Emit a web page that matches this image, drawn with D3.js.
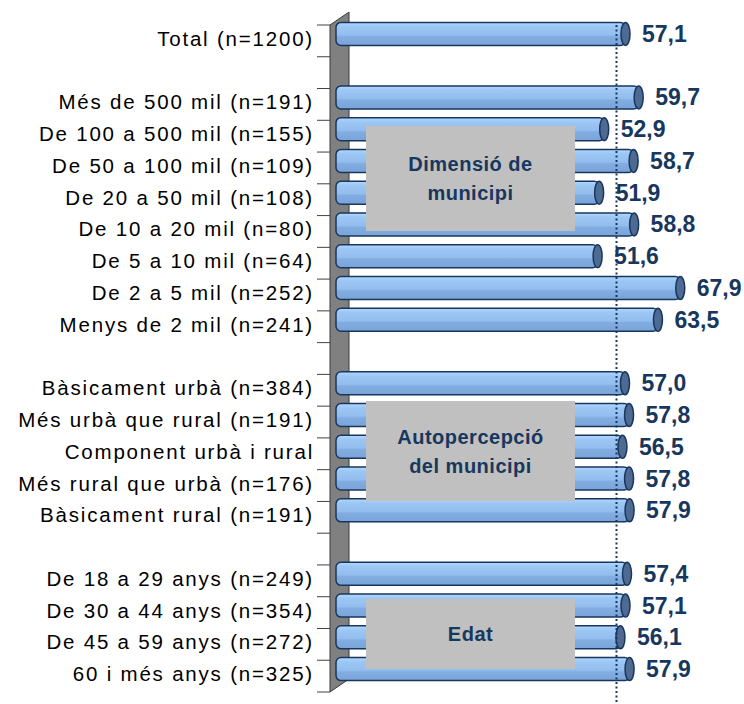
<!DOCTYPE html>
<html>
<head>
<meta charset="utf-8">
<script src="https://cdn.jsdelivr.net/npm/d3@7"></script>
<style>
  html, body { margin: 0; padding: 0; background: #fff; }
  svg { display: block; }
  .cat-label { font-family: "Liberation Sans", Arial, sans-serif; font-size: 20.5px; letter-spacing: 1.8px; fill: #000; }
  .val-label { font-family: "Liberation Sans", Arial, sans-serif; font-size: 23px; font-weight: bold; fill: #17375e; }
  .box-label { font-family: "Liberation Sans", Arial, sans-serif; font-size: 20px; font-weight: bold; letter-spacing: 0.5px; fill: #17375e; }
</style>
</head>
<body>
<div id="chart"></div>
<script>
// Satisfaction index by municipality size, self-perception and age.
const categories = [
  "Total (n=1200)", "",
  "Més de 500 mil (n=191)", "De 100 a 500 mil (n=155)", "De 50 a 100 mil (n=109)",
  "De 20 a 50 mil (n=108)", "De 10 a 20 mil (n=80)", "De 5 a 10 mil (n=64)",
  "De 2 a 5 mil (n=252)", "Menys de 2 mil (n=241)", "",
  "Bàsicament urbà (n=384)", "Més urbà que rural (n=191)", "Component urbà i rural",
  "Més rural que urbà (n=176)", "Bàsicament rural (n=191)", "",
  "De 18 a 29 anys (n=249)", "De 30 a 44 anys (n=354)", "De 45 a 59 anys (n=272)",
  "60 i més anys (n=325)"
];
const values = [
  57.1, null,
  59.7, 52.9, 58.7, 51.9, 58.8, 51.6, 67.9, 63.5, null,
  57.0, 57.8, 56.5, 57.8, 57.9, null,
  57.4, 57.1, 56.1, 57.9
];
const averageValue = 57.1;
const groupTitles = [
  ["Dimensió de", "municipi"],
  ["Autopercepció", "del municipi"],
  ["Edat"]
];

(function () {
  const width = 744;
  const height = 704;

  const svg = d3.select("#chart").append("svg")
    .attr("width", width)
    .attr("height", height);

  const navy = "#17375e";
  const depthX = 19, depthY = 13;
  const barH = 23, barLift = 7, capRx = 4.5;

  const y = d3.scaleBand()
    .domain(d3.range(categories.length))
    .range([25, 692])
    .padding(0);

  const x = d3.scaleLinear().domain([0, 70]).range([336, 336 + 70 * 5.07]);

  const defs = svg.append("defs");
  const grad = defs.append("linearGradient")
    .attr("id", "barGrad").attr("x1", 0).attr("y1", 0).attr("x2", 0).attr("y2", 1);
  [[0, "#b4d8ff"], [0.18, "#9cc7f4"], [0.55, "#93bdee"], [0.62, "#82ade2"], [1, "#7aa4d8"]]
    .forEach(([o, c]) => grad.append("stop").attr("offset", o).attr("stop-color", c));

  // back wall (3D side panel)
  const [y0, y1] = y.range();
  const wallX = x(0) - 6;
  svg.append("polygon")
    .attr("points", [
      [wallX, y0], [wallX + depthX, y0 - depthY],
      [wallX + depthX, y1 - depthY], [wallX, y1]
    ].map((p) => p.join(",")).join(" "))
    .attr("fill", "#808080")
    .attr("stroke", "#3a3a3a")
    .attr("stroke-width", 1);

  // ticks on category boundaries
  const boundaries = d3.range(categories.length + 1).map((i) => y0 + i * y.step());
  svg.append("g").selectAll("line")
    .data(boundaries)
    .join("line")
    .attr("x1", wallX - 13).attr("x2", wallX)
    .attr("y1", (d) => d).attr("y2", (d) => d)
    .attr("stroke", "#404040").attr("stroke-width", 1);

  // category labels
  svg.append("g").selectAll("text")
    .data(categories)
    .join("text")
    .attr("class", "cat-label")
    .attr("x", wallX - 16)
    .attr("y", (d, i) => y(i) + y.bandwidth() / 2 - 2.5)
    .attr("text-anchor", "end")
    .attr("dominant-baseline", "central")
    .text((d) => d);

  const rows = values.map((v, i) => ({ v, i })).filter((d) => d.v != null);
  const barY = (d) => y(d.i) + y.bandwidth() / 2 - barLift - barH / 2;

  const bars = svg.append("g").selectAll("g")
    .data(rows)
    .join("g");

  bars.append("rect")
    .attr("x", x(0))
    .attr("y", barY)
    .attr("width", (d) => x(d.v) - x(0))
    .attr("height", barH)
    .attr("rx", 5)
    .attr("fill", "url(#barGrad)")
    .attr("stroke", navy)
    .attr("stroke-width", 1.5);

  bars.append("ellipse")
    .attr("cx", (d) => x(d.v))
    .attr("cy", (d) => barY(d) + barH / 2)
    .attr("rx", capRx)
    .attr("ry", barH / 2)
    .attr("fill", "#4e6a92")
    .attr("stroke", navy)
    .attr("stroke-width", 1.5);

  // group annotation boxes
  const boxes = [
    { top: 126, bottom: 231 },
    { top: 401, bottom: 501 },
    { top: 599, bottom: 669 }
  ];
  const boxX0 = 366, boxX1 = 575;
  const boxG = svg.append("g").selectAll("g")
    .data(boxes)
    .join("g");
  boxG.append("rect")
    .attr("x", boxX0).attr("y", (d) => d.top)
    .attr("width", boxX1 - boxX0)
    .attr("height", (d) => d.bottom - d.top)
    .attr("fill", "#c0c0c0");
  boxG.each(function (d, k) {
    const lines = groupTitles[k];
    const lh = 29;
    const cy = (d.top + d.bottom) / 2;
    d3.select(this).selectAll("text")
      .data(lines)
      .join("text")
      .attr("class", "box-label")
      .attr("x", (boxX0 + boxX1) / 2)
      .attr("y", (t, j) => cy + (j - (lines.length - 1) / 2) * lh)
      .attr("text-anchor", "middle")
      .attr("dominant-baseline", "central")
      .text((t) => t);
  });

  // average reference line
  svg.append("line")
    .attr("x1", x(averageValue) - 9).attr("x2", x(averageValue) - 9)
    .attr("y1", y0).attr("y2", height)
    .attr("stroke", navy)
    .attr("stroke-width", 2)
    .attr("stroke-dasharray", "2,2.5");

  // value labels
  const fmt = (v) => d3.format(".1f")(v).replace(".", ",");
  svg.append("g").selectAll("text")
    .data(rows)
    .join("text")
    .attr("class", "val-label")
    .attr("x", (d) => x(d.v) + capRx + 12)
    .attr("y", (d) => barY(d) + barH / 2)
    .attr("dominant-baseline", "central")
    .text((d) => fmt(d.v));
})();
</script>
</body>
</html>
